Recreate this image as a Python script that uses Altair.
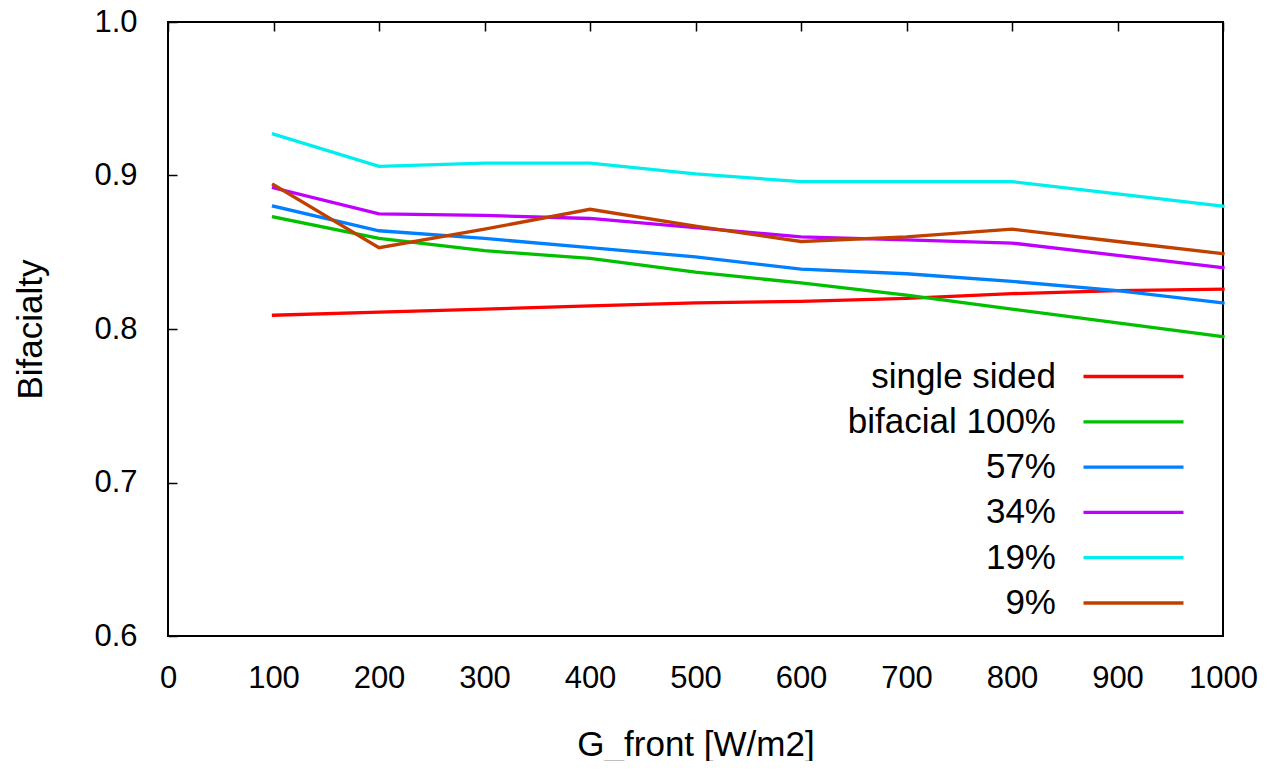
import altair as alt
import pandas as pd

# ---- data ----
g_front = [100, 200, 300, 400, 500, 600, 700, 800, 900, 1000]

series_names = ["single sided", "bifacial 100%", "57%", "34%", "19%", "9%"]
series_colors = ["#ff0000", "#00c000", "#0080ff", "#c000ff", "#00eeee", "#c04000"]

single_sided = [0.809, 0.811, 0.813, 0.815, 0.817, 0.818, 0.820, 0.823, 0.825, 0.826]
bifacial_100 = [0.873, 0.859, 0.851, 0.846, 0.837, 0.830, 0.822, 0.813, 0.804, 0.795]
bifacial_57 = [0.880, 0.864, 0.859, 0.853, 0.847, 0.839, 0.836, 0.831, 0.825, 0.817]
bifacial_34 = [0.892, 0.875, 0.874, 0.872, 0.866, 0.860, 0.858, 0.856, 0.848, 0.840]
bifacial_19 = [0.927, 0.906, 0.908, 0.908, 0.901, 0.896, 0.896, 0.896, 0.888, 0.880]
bifacial_9 = [0.894, 0.853, 0.865, 0.878, 0.867, 0.857, 0.860, 0.865, 0.857, 0.849]

x_ticks = [0, 100, 200, 300, 400, 500, 600, 700, 800, 900, 1000]
y_ticks = [0.6, 0.7, 0.8, 0.9, 1.0]

values = [single_sided, bifacial_100, bifacial_57, bifacial_34, bifacial_19, bifacial_9]
rows = []
for name, ys in zip(series_names, values):
    for x, y in zip(g_front, ys):
        rows.append({"G_front": x, "Bifacialty": y, "series": name})
df = pd.DataFrame(rows)

FONT = "Liberation Sans"

chart = (
    alt.Chart(df)
    .mark_line(strokeWidth=3.3, strokeCap="square", strokeJoin="miter")
    .encode(
        x=alt.X(
            "G_front:Q",
            scale=alt.Scale(domain=[0, 1000], nice=False, zero=False),
            axis=alt.Axis(
                title="G_front [W/m2]",
                values=x_ticks,
                format="d",
                ticks=False,
                domain=False,
                grid=True,
                gridColor="black",
                gridWidth=1.5,
                gridDash=[9, 3000],
                gridOpacity=1,
                labelFontSize=31,
                labelFont=FONT,
                labelColor="black",
                labelPadding=27,
                labelFlush=False,
                labelOverlap=False,
                titleFont=FONT,
                titleFontSize=35,
                titleFontWeight="normal",
                titleColor="black",
                titlePadding=34,
            ),
        ),
        y=alt.Y(
            "Bifacialty:Q",
            scale=alt.Scale(domain=[0.6, 1.0], nice=False, zero=False),
            axis=alt.Axis(
                title="Bifacialty",
                values=y_ticks,
                format=".1f",
                ticks=False,
                domain=False,
                grid=True,
                gridColor="black",
                gridWidth=1.5,
                gridDash=[9, 3000],
                gridOpacity=1,
                labelFontSize=31,
                labelFont=FONT,
                labelColor="black",
                labelPadding=31,
                labelFlush=False,
                labelOverlap=False,
                titleFont=FONT,
                titleFontSize=35,
                titleFontWeight="normal",
                titleColor="black",
                titlePadding=45,
            ),
        ),
        color=alt.Color(
            "series:N",
            scale=alt.Scale(domain=series_names, range=series_colors),
            sort=series_names,
            legend=alt.Legend(
                title=None,
                orient="none",
                legendX=859,
                legendY=337,
                direction="vertical",
                symbolType="M-5,0H5",
                symbolSize=400,
                symbolStrokeWidth=3.3,
                symbolOffset=89,
                labelAlign="right",
                labelOffset={"expr": "-95"},
                labelFont=FONT,
                labelFontSize=35,
                labelColor="black",
                labelLimit=0,
                rowPadding=9.3,
                padding=0,
            ),
        ),
    )
    .properties(
        width=1055,
        height=614,
        autosize=alt.AutoSizeParams(type="none"),
        padding={"left": 160, "top": 14, "right": 43, "bottom": 125},
    )
    .configure_view(stroke="black", strokeWidth=2)
)

chart.save("out.html", embed_options={"renderer": "svg", "actions": False})
